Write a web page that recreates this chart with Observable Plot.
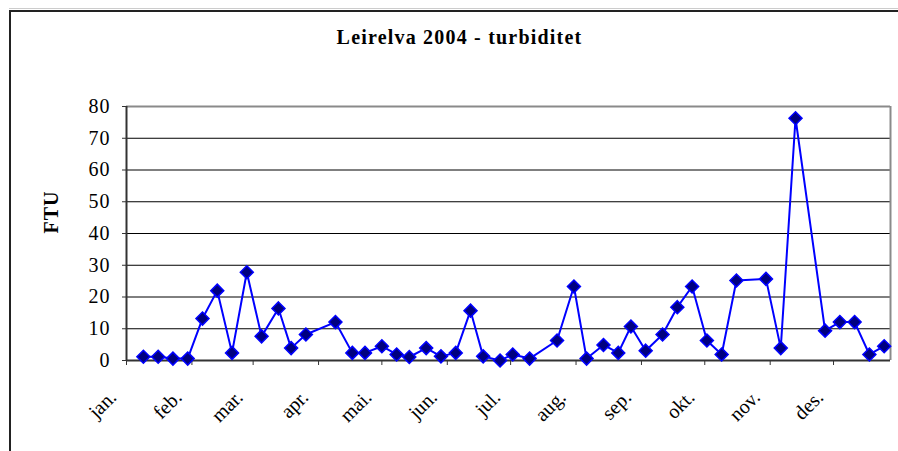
<!DOCTYPE html>
<html><head><meta charset="utf-8">
<script src="https://cdn.jsdelivr.net/npm/d3@7"></script>
<script src="https://cdn.jsdelivr.net/npm/@observablehq/plot@0.6"></script>
<style>
body{margin:0;background:#fff;}
#wrap{position:relative;width:898px;height:451px;overflow:hidden;background:#fff;}
#frame{position:absolute;left:9px;top:10px;width:1000px;height:1000px;border-left:2px solid #222;border-top:2px solid #222;}
#topline{position:absolute;left:9px;top:8px;width:1000px;height:1px;background:#ccc;}
#wrap svg{position:absolute;left:0;top:0;}
</style></head><body><div id="wrap"><div id="topline"></div><div id="frame"></div></div>
<script>
const dates = ["2004-01-09","2004-01-16","2004-01-23","2004-01-30","2004-02-06","2004-02-13","2004-02-20","2004-02-27",
  "2004-03-05","2004-03-13","2004-03-19","2004-03-26","2004-04-09","2004-04-17","2004-04-23","2004-05-01",
  "2004-05-08","2004-05-14","2004-05-22","2004-05-29","2004-06-05","2004-06-12","2004-06-18","2004-06-26",
  "2004-07-02","2004-07-10","2004-07-23","2004-07-31","2004-08-06","2004-08-14","2004-08-21","2004-08-27",
  "2004-09-03","2004-09-11","2004-09-18","2004-09-25","2004-10-02","2004-10-09","2004-10-16","2004-10-30",
  "2004-11-06","2004-11-13","2004-11-27","2004-12-04","2004-12-11","2004-12-18","2004-12-25"];
const values = [1.2,1.2,0.6,0.6,13.2,22,2.4,27.8,
  7.6,16.4,3.9,8.2,12.1,2.4,2.4,4.5,
  1.9,1.1,3.9,1.3,2.4,15.7,1.3,0,
  1.9,0.6,6.3,23.3,0.6,4.9,2.4,10.7,
  3.1,8.2,16.8,23.3,6.3,1.9,25.2,25.7,
  3.9,76.3,9.4,12.1,12.1,1.9,4.5];
const monthStarts = ["2004-01-01","2004-02-01","2004-03-01","2004-04-01","2004-05-01","2004-06-01",
  "2004-07-01","2004-08-01","2004-09-01","2004-10-01","2004-11-01","2004-12-01"];
const monthLabels = ["jan.","feb.","mar.","apr.","mai.","jun.","jul.","aug.","sep.","okt.","nov.","des."];
const yTicks = [0,10,20,30,40,50,60,70,80];
const title = "Leirelva 2004 - turbiditet";
const yLabel = "FTU";

const xMin = new Date("2004-01-01");
const xMax = new Date("2004-12-28");
const data = dates.map((d, i) => ({date: new Date(d), value: values[i]}));
const months = monthStarts.map((d, i) => ({date: new Date(d), label: monthLabels[i]}));

const diamond = {
  draw(ctx, size) {
    const s = Math.sqrt(size / Math.PI);
    ctx.moveTo(0, -s); ctx.lineTo(s, 0); ctx.lineTo(0, s); ctx.lineTo(-s, 0); ctx.closePath();
  }
};

const chart = Plot.plot({
  width: 898, height: 451,
  marginLeft: 126, marginRight: 8, marginTop: 106, marginBottom: 91,
  style: {fontFamily: "Liberation Serif, serif", background: "transparent", color: "#000"},
  x: {type: "utc", domain: [xMin, xMax]},
  y: {domain: [0, 80]},
  marks: [
    Plot.ruleY(yTicks.filter(v => v > 0 && v < 80), {stroke: "#000", strokeWidth: 1}),
    Plot.ruleY([80], {stroke: "#8a8a8a", strokeWidth: 2}),
    Plot.ruleX([xMax], {stroke: "#8a8a8a", strokeWidth: 2}),
    Plot.axisY({ticks: yTicks, tickSize: 4, tickPadding: 12, fontSize: 20, label: null, stroke: "#333", fill: "#000"}),
    Plot.axisX({ticks: months.map(d => d.date), tickFormat: () => "", tickSize: 5, label: null, stroke: "#333"}),
    Plot.ruleX([xMin], {stroke: "#333", strokeWidth: 2}),
    Plot.ruleY([0], {stroke: "#333", strokeWidth: 2}),
    Plot.text(months, {x: "date", text: "label", frameAnchor: "bottom", rotate: -45, textAnchor: "end", lineAnchor: "bottom",
      dx: -9, dy: 38, fontSize: 20, fill: "#000"}),
    Plot.line(data, {x: "date", y: "value", stroke: "#0000ff", strokeWidth: 2}),
    Plot.dot(data, {x: "date", y: "value", symbol: diamond, r: 6.5, fill: "#000080", stroke: "#0000ff", strokeWidth: 1.5}),
    Plot.text([title], {frameAnchor: "top", dx: -49, dy: -63, lineAnchor: "bottom", fontSize: 20, fontWeight: "bold", fill: "#000"}),
    Plot.text([yLabel], {frameAnchor: "left", dx: -75, rotate: -90, fontSize: 20, fontWeight: "bold", fill: "#000"})
  ]
});
document.getElementById("wrap").appendChild(chart);
d3.select(chart).selectAll("text").each(function() {
  const t = this.textContent;
  if (t === title) this.style.letterSpacing = "1.2px";
  else if (t === yLabel) this.style.letterSpacing = "1px";
  else if (/^\d+$/.test(t)) this.style.letterSpacing = "1px";
});
</script>
</body></html>
